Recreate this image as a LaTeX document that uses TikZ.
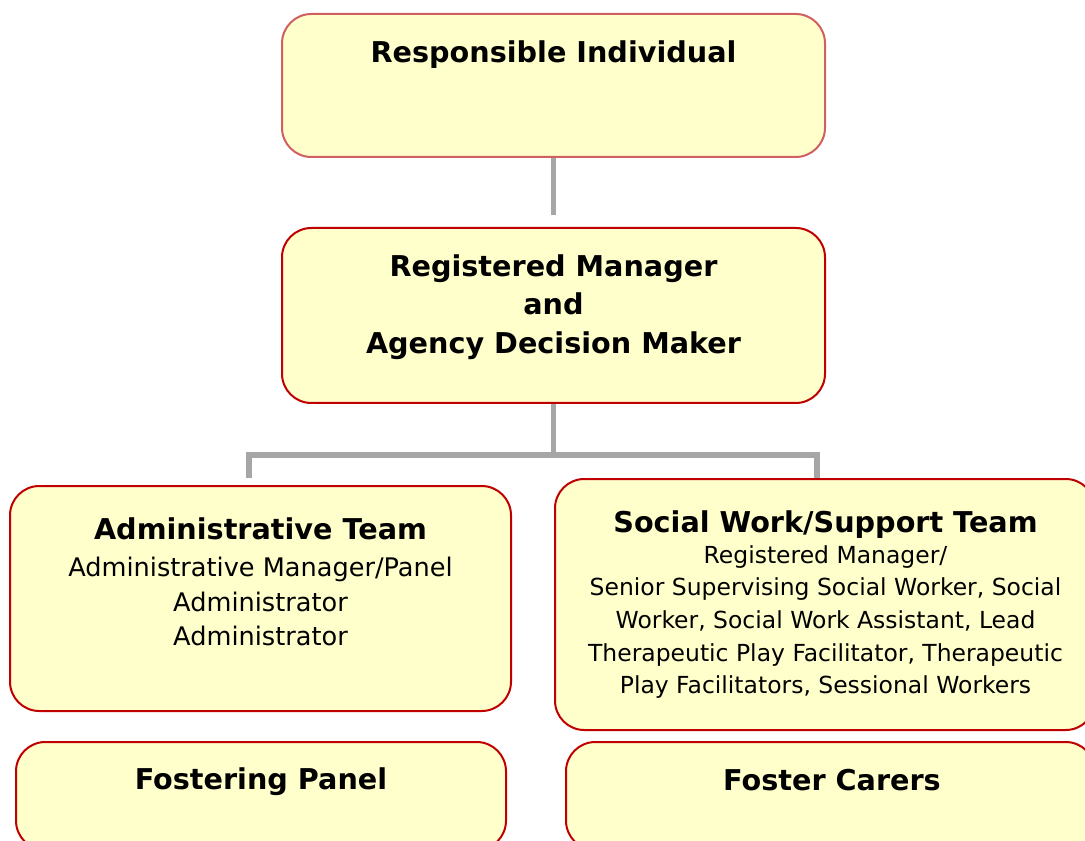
\documentclass[tikz,border=0pt]{standalone}
\usepackage{fontspec}
\setmainfont{DejaVu Sans}
\definecolor{boxfill}{HTML}{FFFFCC}
\definecolor{boxred}{HTML}{C00000}
\definecolor{boxpink}{HTML}{D06060}
\definecolor{conngray}{HTML}{A6A6A6}
\begin{document}
\begin{tikzpicture}[x=0.75pt,y=-0.75pt,
  box/.style={draw=boxred,line width=1.5pt,fill=boxfill,rounded corners=22pt,inner sep=0pt},
  ttl/.style={font=\fontsize{21.5}{28}\selectfont\bfseries,align=center,inner sep=0pt},
  bodytxt/.style={font=\fontsize{19.2}{26}\selectfont,align=center,inner sep=0pt},
  swtxt/.style={font=\fontsize{17.6}{24.4}\selectfont,align=center,inner sep=0pt},
  conn/.style={draw=conngray,line width=3.8pt}]
\useasboundingbox (0,0) rectangle (1085,841);
\begin{scope}
\clip (0,0) rectangle (1085,841);
\node[box,draw=boxpink,minimum width=543*0.75pt,minimum height=143*0.75pt] (b1) at (553.5,85.5) {};
\node[box,minimum width=543*0.75pt,minimum height=175*0.75pt] (b2) at (553.5,315.5) {};
\node[box,minimum width=501*0.75pt,minimum height=225*0.75pt] (b3) at (260.5,598.5) {};
\node[box,minimum width=540*0.75pt,minimum height=251*0.75pt] (b4) at (825,604.5) {};
\node[box,minimum width=490*0.75pt,minimum height=108*0.75pt] (b5) at (261,796) {};
\node[box,minimum width=529*0.75pt,minimum height=108*0.75pt] (b6) at (830.5,796) {};
\end{scope}
\node[ttl] (t1) at (553.5,55) {Responsible Individual};
\node[ttl,font=\fontsize{21.5}{29}\selectfont\bfseries] (t2) at (553.5,307) {Registered Manager\\and\\Agency Decision Maker};
\node[ttl] (t3) at (260.5,529) {Administrative Team};
\node[bodytxt] (d3) at (260.5,601.5) {Administrative Manager/Panel\\Administrator\\Administrator};
\node[ttl] (t4) at (825.5,525) {Social Work/Support Team};
\node[swtxt] (d4) at (825.5,622) {Registered Manager/\\Senior Supervising Social Worker, Social\\Worker, Social Work Assistant, Lead\\Therapeutic Play Facilitator, Therapeutic\\Play Facilitators, Sessional Workers};
\node[ttl] (t5) at (261,782) {Fostering Panel};
\node[ttl] (t6) at (832,780) {Foster Carers};
\coordinate (c1) at (553.5,215);
\coordinate (c2) at (553.5,455);
\coordinate (cl) at (249,455);
\coordinate (cr) at (817,455);
\coordinate (cld) at (249,478);
\coordinate (crd) at (817,478);
\draw[conn] (b1.south) -- (c1);
\draw[conn] (b2.south) -- (c2);
\draw[conn] (cld) -- (cl) -- (cr) -- (crd);
\end{tikzpicture}
\end{document}
